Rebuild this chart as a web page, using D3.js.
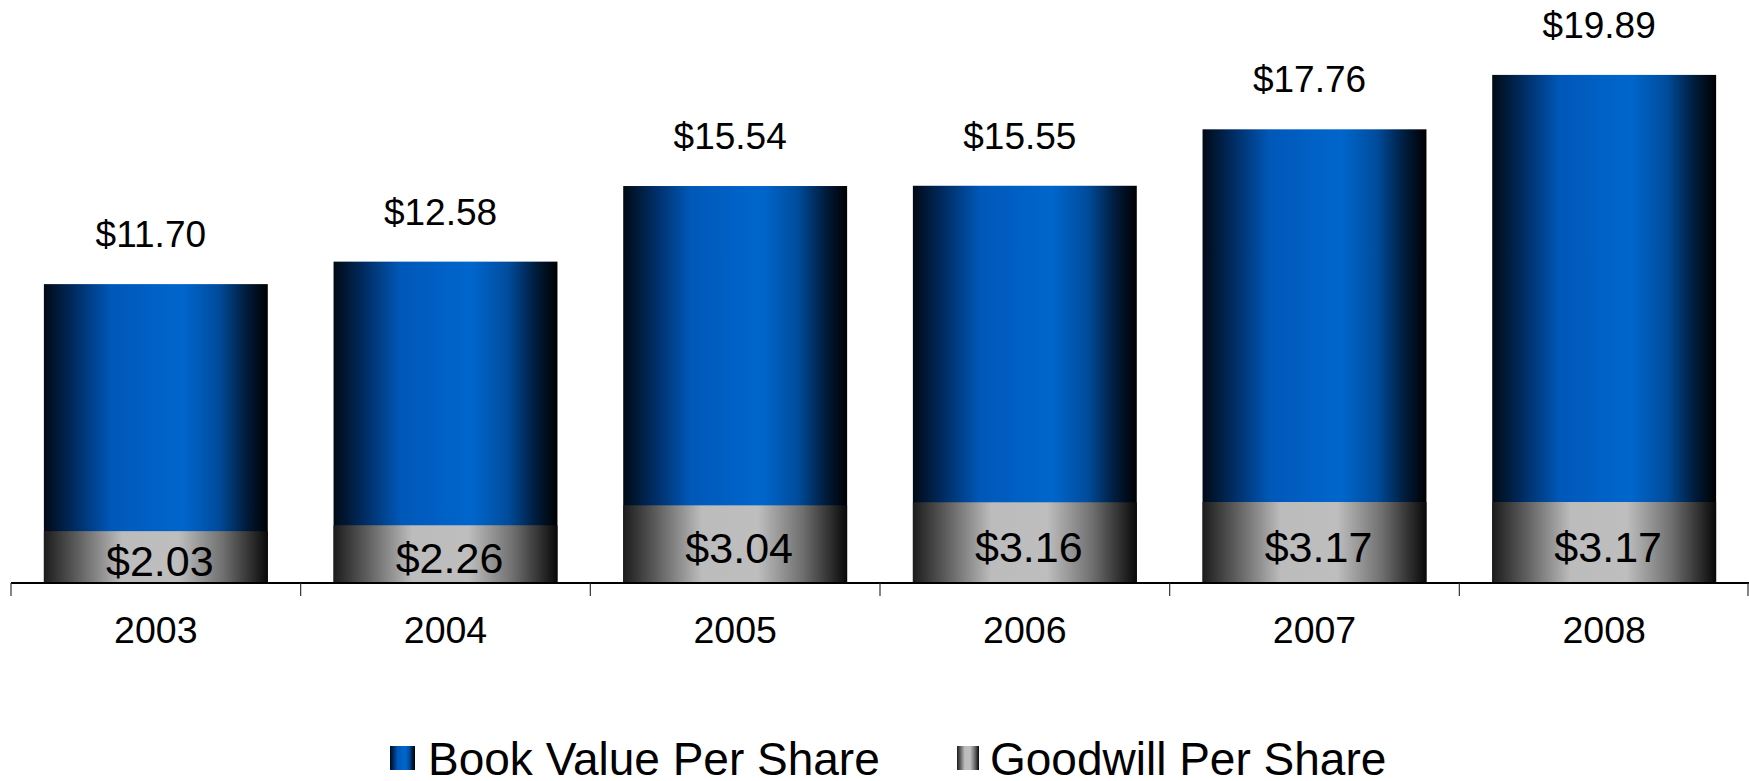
<!DOCTYPE html>
<html lang="en">
  <head>
    <meta charset="UTF-8" />
    <title>Book Value and Goodwill Per Share</title>
    <style>
      html,
      body {
        margin: 0;
        padding: 0;
        background: #fff;
      }
      svg {
        display: block;
        font-family: "Liberation Sans", Arial, sans-serif;
      }
      .top-label {
        font-size: 37px;
        fill: #000;
      }
      .gw-label {
        font-size: 43px;
        fill: #000;
      }
      .year {
        font-size: 37.5px;
        fill: #000;
      }
      .legend-text {
        font-size: 46px;
        fill: #000;
      }
    </style>
  </head>
  <body>
    <svg width="1749" height="781"></svg>

    <script src="https://d3js.org/d3.v7.min.js"></script>
    <script>
      const years = ["2003", "2004", "2005", "2006", "2007", "2008"];
      const bookValue = [11.7, 12.58, 15.54, 15.55, 17.76, 19.89];
      const goodwill = [2.03, 2.26, 3.04, 3.16, 3.17, 3.17];
      const seriesNames = ["Book Value Per Share", "Goodwill Per Share"];

      const width = 1749,
        baseY = 583;

      const svg = d3.select("svg");
      const fmt = (v) => "$" + d3.format(".2f")(v);

      // gradients: blue cylinder look and grey cylinder look
      const defs = svg.append("defs");
      const addGrad = (id, stops) => {
        const g = defs
          .append("linearGradient")
          .attr("id", id)
          .attr("x1", "0%")
          .attr("x2", "100%")
          .attr("y1", "0%")
          .attr("y2", "0%");
        stops.forEach(([o, c]) =>
          g.append("stop").attr("offset", o).attr("stop-color", c)
        );
      };
      addGrad("blueGrad", [
        [0, "#010a15"],
        [0.14, "#002d64"],
        [0.3, "#0058b8"],
        [0.5, "#0061c6"],
        [0.62, "#0066cc"],
        [0.78, "#004c9c"],
        [0.9, "#001d3e"],
        [1, "#000000"],
      ]);
      addGrad("greyGrad", [
        [0, "#1c1c1c"],
        [0.15, "#5e5e5e"],
        [0.35, "#bcbcbc"],
        [0.6, "#bebebe"],
        [0.8, "#707070"],
        [1, "#080808"],
      ]);

      const x = d3
        .scaleBand()
        .domain(years)
        .range([11, width])
        .paddingInner(0.227)
        .paddingOuter(0.1135);

      const y = d3.scaleLinear().domain([0, 22]).range([baseY, 21]);

      const step = x.step();
      const gap = step * x.paddingInner();
      const cx = (yr) => x(yr) + x.bandwidth() / 2;

      // book value bars (full height)
      svg
        .append("g")
        .selectAll("rect")
        .data(years)
        .join("rect")
        .attr("x", (d) => x(d))
        .attr("width", x.bandwidth())
        .attr("y", (d, i) => y(bookValue[i]))
        .attr("height", (d, i) => y(0) - y(bookValue[i]))
        .attr("fill", "url(#blueGrad)");

      // goodwill bars drawn in front
      svg
        .append("g")
        .selectAll("rect")
        .data(years)
        .join("rect")
        .attr("x", (d) => x(d))
        .attr("width", x.bandwidth())
        .attr("y", (d, i) => y(goodwill[i]))
        .attr("height", (d, i) => y(0) - y(goodwill[i]))
        .attr("fill", "url(#greyGrad)");

      // value labels
      svg
        .append("g")
        .selectAll("text")
        .data(years)
        .join("text")
        .attr("class", "top-label")
        .attr("text-anchor", "middle")
        .attr("x", (d) => cx(d) - 5)
        .attr("y", (d, i) => y(bookValue[i]) - 37)
        .text((d, i) => fmt(bookValue[i]));

      svg
        .append("g")
        .selectAll("text")
        .data(years)
        .join("text")
        .attr("class", "gw-label")
        .attr("text-anchor", "middle")
        .attr("x", (d) => cx(d) + 4)
        .attr("y", (d, i) => (y(goodwill[i]) + y(0)) / 2 + 19)
        .text((d, i) => fmt(goodwill[i]));

      // category axis
      const axis = svg.append("g");
      axis
        .append("line")
        .attr("x1", 11)
        .attr("x2", width)
        .attr("y1", baseY)
        .attr("y2", baseY)
        .attr("stroke", "#000")
        .attr("stroke-width", 2);

      const tickX = years.map((d) => x(d) - gap / 2).concat([width - 1]);
      axis
        .selectAll(".tick")
        .data(tickX)
        .join("line")
        .attr("class", "tick")
        .attr("x1", (d) => d)
        .attr("x2", (d) => d)
        .attr("y1", baseY)
        .attr("y2", baseY + 13)
        .attr("stroke", "#333")
        .attr("stroke-width", 1.2);

      axis
        .selectAll(".year")
        .data(years)
        .join("text")
        .attr("class", "year")
        .attr("text-anchor", "middle")
        .attr("x", (d) => cx(d))
        .attr("y", 643)
        .text((d) => d);

      // legend
      const legend = svg.append("g");
      const legendItems = [
        { name: seriesNames[0], fill: "url(#blueGrad)", mx: 390, mw: 25, tx: 428 },
        { name: seriesNames[1], fill: "url(#greyGrad)", mx: 957, mw: 22, tx: 990 },
      ];
      legend
        .selectAll("rect")
        .data(legendItems)
        .join("rect")
        .attr("x", (d) => d.mx)
        .attr("y", 746)
        .attr("width", (d) => d.mw)
        .attr("height", 24)
        .attr("fill", (d) => d.fill);
      legend
        .selectAll("text")
        .data(legendItems)
        .join("text")
        .attr("class", "legend-text")
        .attr("x", (d) => d.tx)
        .attr("y", 775)
        .text((d) => d.name);
    </script>
  </body>
</html>
